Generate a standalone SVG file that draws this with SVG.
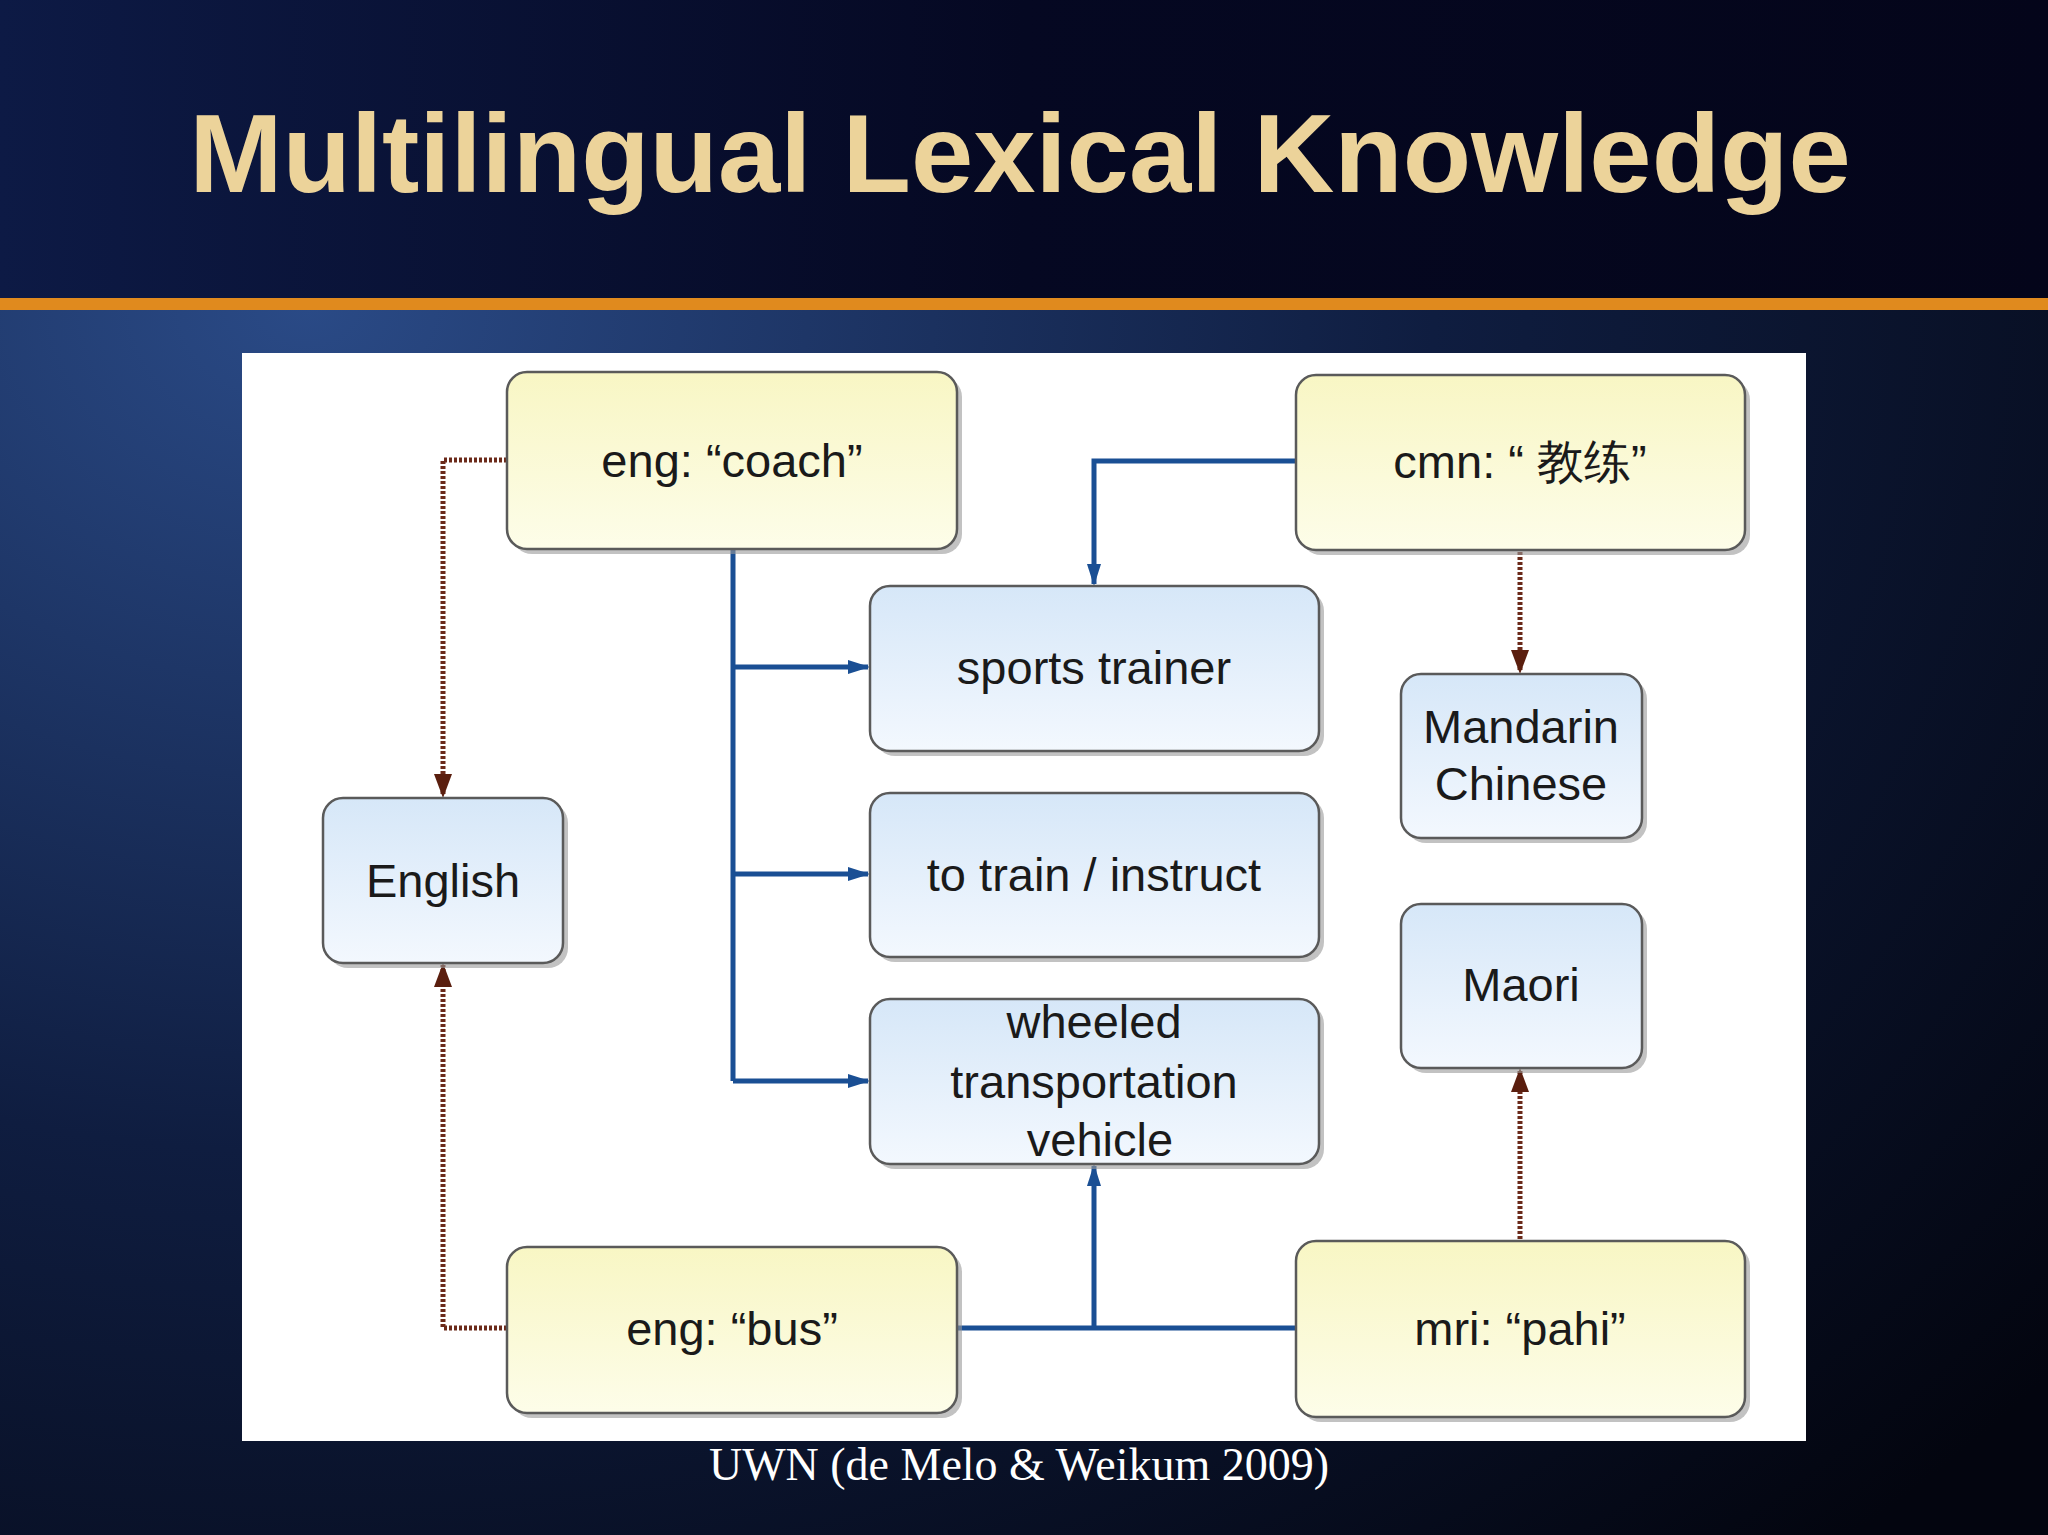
<svg xmlns="http://www.w3.org/2000/svg" width="2048" height="1535" viewBox="0 0 2048 1535">
<defs>
<radialGradient id="bg" cx="0.15" cy="0.2" r="1.1">
<stop offset="0" stop-color="#2a4a86"/><stop offset="0.5" stop-color="#0f1d40"/><stop offset="1" stop-color="#03050f"/>
</radialGradient>
<linearGradient id="hd" x1="0" y1="0" x2="1" y2="0">
<stop offset="0" stop-color="#0d1a45"/><stop offset="0.5" stop-color="#050822"/><stop offset="1" stop-color="#04051a"/>
</linearGradient>
<linearGradient id="yel" x1="0" y1="0" x2="0" y2="1"><stop offset="0" stop-color="#f8f6c4"/><stop offset="1" stop-color="#fdfde9"/></linearGradient>
<linearGradient id="blu" x1="0" y1="0" x2="0" y2="1"><stop offset="0" stop-color="#d6e7f8"/><stop offset="1" stop-color="#f3f8fe"/></linearGradient>
<marker id="ab" viewBox="0 0 22 16" refX="20" refY="8" markerWidth="22" markerHeight="16" orient="auto" markerUnits="userSpaceOnUse"><path d="M0,1 L22,8 L0,15 Z" fill="#1a4f94"/></marker>
<marker id="ar" viewBox="0 0 24 18" refX="22" refY="9" markerWidth="24" markerHeight="18" orient="auto" markerUnits="userSpaceOnUse"><path d="M0,0 L24,9 L0,18 Z" fill="#5a1e0e"/></marker>
</defs>
<style>
.n rect.b{stroke:#5a5a5a;stroke-width:2.5}
.sh{fill:#9a9a9a;opacity:0.6}
.t{font-family:"Liberation Sans",Arial,sans-serif;font-size:47px;fill:#1a1a1a;text-anchor:middle}
.bl{fill:none;stroke:#1a4f94;stroke-width:5}
.br{fill:none;stroke:#6b2a1a;stroke-width:5;stroke-dasharray:3 2}
</style>
<rect width="2048" height="1535" fill="url(#bg)"/>
<rect width="2048" height="298" fill="url(#hd)"/>
<rect y="298" width="2048" height="12" fill="#e08a1e"/>
<text x="1020" y="192" font-family="Liberation Sans,Arial,sans-serif" font-weight="bold" font-size="112" fill="#ecd39a" text-anchor="middle">Multilingual Lexical Knowledge</text>
<rect x="242" y="353" width="1564" height="1088" fill="#ffffff"/>
<g id="connectors">
<path class="bl" d="M733,549 V1081"/>
<path class="bl" d="M733,667 H868" marker-end="url(#ab)"/>
<path class="bl" d="M733,874 H868" marker-end="url(#ab)"/>
<path class="bl" d="M733,1081 H868" marker-end="url(#ab)"/>
<path class="bl" d="M1296,461 H1094 V584" marker-end="url(#ab)"/>
<path class="bl" d="M957,1328 H1296"/>
<path class="bl" d="M1094,1328 V1166" marker-end="url(#ab)"/>
<path class="br" d="M507,460 H443 V796" marker-end="url(#ar)"/>
<path class="br" d="M507,1328 H443 V965" marker-end="url(#ar)"/>
<path class="br" d="M1520,552 V672" marker-end="url(#ar)"/>
<path class="br" d="M1520,1239 V1070" marker-end="url(#ar)"/>
</g>
<g id="coach" class="n"><rect class="sh" x="512" y="377" width="450" height="177" rx="20"/><rect class="b" x="507" y="372" width="450" height="177" rx="20" fill="url(#yel)"/><text class="t" x="732" y="477">eng: “coach”</text></g>
<g id="cmn" class="n"><rect class="sh" x="1301" y="380" width="449" height="175" rx="20"/><rect class="b" x="1296" y="375" width="449" height="175" rx="20" fill="url(#yel)"/><text class="t" x="1520" y="478" font-family="Liberation Sans,Noto Sans CJK SC,sans-serif">cmn: “ 教练”</text></g>
<g id="sports" class="n"><rect class="sh" x="875" y="591" width="449" height="165" rx="20"/><rect class="b" x="870" y="586" width="449" height="165" rx="20" fill="url(#blu)"/><text class="t" x="1094" y="684">sports trainer</text></g>
<g id="train" class="n"><rect class="sh" x="875" y="798" width="449" height="164" rx="20"/><rect class="b" x="870" y="793" width="449" height="164" rx="20" fill="url(#blu)"/><text class="t" x="1094" y="891">to train / instruct</text></g>
<g id="wheeled" class="n"><rect class="sh" x="875" y="1004" width="449" height="165" rx="20"/><rect class="b" x="870" y="999" width="449" height="165" rx="20" fill="url(#blu)"/><text class="t" x="1094" y="1038">wheeled</text><text class="t" x="1094" y="1098">transportation</text><text class="t" x="1100" y="1156">vehicle</text></g>
<g id="mandarin" class="n"><rect class="sh" x="1406" y="679" width="241" height="164" rx="20"/><rect class="b" x="1401" y="674" width="241" height="164" rx="20" fill="url(#blu)"/><text class="t" x="1521" y="743">Mandarin</text><text class="t" x="1521" y="800">Chinese</text></g>
<g id="maori" class="n"><rect class="sh" x="1406" y="909" width="241" height="164" rx="20"/><rect class="b" x="1401" y="904" width="241" height="164" rx="20" fill="url(#blu)"/><text class="t" x="1521" y="1001">Maori</text></g>
<g id="english" class="n"><rect class="sh" x="328" y="803" width="240" height="165" rx="20"/><rect class="b" x="323" y="798" width="240" height="165" rx="20" fill="url(#blu)"/><text class="t" x="443" y="897">English</text></g>
<g id="bus" class="n"><rect class="sh" x="512" y="1252" width="450" height="166" rx="20"/><rect class="b" x="507" y="1247" width="450" height="166" rx="20" fill="url(#yel)"/><text class="t" x="732" y="1345">eng: “bus”</text></g>
<g id="pahi" class="n"><rect class="sh" x="1301" y="1246" width="449" height="176" rx="20"/><rect class="b" x="1296" y="1241" width="449" height="176" rx="20" fill="url(#yel)"/><text class="t" x="1520" y="1345">mri: “pahi”</text></g>
<text x="1019" y="1480" font-family="Liberation Serif,Times New Roman,serif" font-size="46" fill="#ffffff" text-anchor="middle">UWN (de Melo &amp; Weikum 2009)</text>
</svg>
